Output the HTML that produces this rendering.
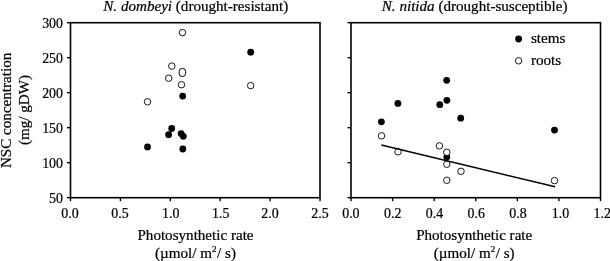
<!DOCTYPE html>
<html><head><meta charset="utf-8"><style>
text{stroke:#000;stroke-width:0.22px;}
html,body{margin:0;padding:0;background:#fff;width:610px;height:261px;overflow:hidden;}
svg{display:block;will-change:transform;}
</style></head><body>
<svg width="610" height="261" viewBox="0 0 610 261"><rect width="610" height="261" fill="#fff"/><rect x="70.5" y="22.7" width="249.5" height="175.0" fill="none" stroke="#000" stroke-width="1.6"/><line x1="67.0" y1="197.70" x2="70.5" y2="197.70" stroke="#000" stroke-width="1.35"/><line x1="67.0" y1="162.70" x2="70.5" y2="162.70" stroke="#000" stroke-width="1.35"/><line x1="67.0" y1="127.70" x2="70.5" y2="127.70" stroke="#000" stroke-width="1.35"/><line x1="67.0" y1="92.70" x2="70.5" y2="92.70" stroke="#000" stroke-width="1.35"/><line x1="67.0" y1="57.70" x2="70.5" y2="57.70" stroke="#000" stroke-width="1.35"/><line x1="67.0" y1="22.70" x2="70.5" y2="22.70" stroke="#000" stroke-width="1.35"/><rect x="351.0" y="22.7" width="249.5" height="175.0" fill="none" stroke="#000" stroke-width="1.6"/><line x1="347.5" y1="197.70" x2="351.0" y2="197.70" stroke="#000" stroke-width="1.35"/><line x1="347.5" y1="162.70" x2="351.0" y2="162.70" stroke="#000" stroke-width="1.35"/><line x1="347.5" y1="127.70" x2="351.0" y2="127.70" stroke="#000" stroke-width="1.35"/><line x1="347.5" y1="92.70" x2="351.0" y2="92.70" stroke="#000" stroke-width="1.35"/><line x1="347.5" y1="57.70" x2="351.0" y2="57.70" stroke="#000" stroke-width="1.35"/><line x1="347.5" y1="22.70" x2="351.0" y2="22.70" stroke="#000" stroke-width="1.35"/><text x="63.0" y="203.10" text-anchor="end" font-family='"Liberation Serif", serif' font-size="13.9">50</text><text x="63.0" y="168.10" text-anchor="end" font-family='"Liberation Serif", serif' font-size="13.9">100</text><text x="63.0" y="133.10" text-anchor="end" font-family='"Liberation Serif", serif' font-size="13.9">150</text><text x="63.0" y="98.10" text-anchor="end" font-family='"Liberation Serif", serif' font-size="13.9">200</text><text x="63.0" y="63.10" text-anchor="end" font-family='"Liberation Serif", serif' font-size="13.9">250</text><text x="63.0" y="28.10" text-anchor="end" font-family='"Liberation Serif", serif' font-size="13.9">300</text><line x1="70.5" y1="197.7" x2="70.5" y2="201.2" stroke="#000" stroke-width="1.35"/><text x="70.00" y="217.7" text-anchor="middle" font-family='"Liberation Serif", serif' font-size="13.9">0.0</text><line x1="120.4" y1="197.7" x2="120.4" y2="201.2" stroke="#000" stroke-width="1.35"/><text x="120.00" y="217.7" text-anchor="middle" font-family='"Liberation Serif", serif' font-size="13.9">0.5</text><line x1="170.3" y1="197.7" x2="170.3" y2="201.2" stroke="#000" stroke-width="1.35"/><text x="170.70" y="217.7" text-anchor="middle" font-family='"Liberation Serif", serif' font-size="13.9">1.0</text><line x1="220.2" y1="197.7" x2="220.2" y2="201.2" stroke="#000" stroke-width="1.35"/><text x="220.70" y="217.7" text-anchor="middle" font-family='"Liberation Serif", serif' font-size="13.9">1.5</text><line x1="270.1" y1="197.7" x2="270.1" y2="201.2" stroke="#000" stroke-width="1.35"/><text x="270.00" y="217.7" text-anchor="middle" font-family='"Liberation Serif", serif' font-size="13.9">2.0</text><line x1="320.0" y1="197.7" x2="320.0" y2="201.2" stroke="#000" stroke-width="1.35"/><text x="320.00" y="217.7" text-anchor="middle" font-family='"Liberation Serif", serif' font-size="13.9">2.5</text><line x1="351.00" y1="197.7" x2="351.00" y2="201.2" stroke="#000" stroke-width="1.35"/><text x="350.90" y="217.7" text-anchor="middle" font-family='"Liberation Serif", serif' font-size="13.9">0.0</text><line x1="392.58" y1="197.7" x2="392.58" y2="201.2" stroke="#000" stroke-width="1.35"/><text x="392.68" y="217.7" text-anchor="middle" font-family='"Liberation Serif", serif' font-size="13.9">0.2</text><line x1="434.17" y1="197.7" x2="434.17" y2="201.2" stroke="#000" stroke-width="1.35"/><text x="434.46" y="217.7" text-anchor="middle" font-family='"Liberation Serif", serif' font-size="13.9">0.4</text><line x1="475.75" y1="197.7" x2="475.75" y2="201.2" stroke="#000" stroke-width="1.35"/><text x="476.24" y="217.7" text-anchor="middle" font-family='"Liberation Serif", serif' font-size="13.9">0.6</text><line x1="517.33" y1="197.7" x2="517.33" y2="201.2" stroke="#000" stroke-width="1.35"/><text x="518.02" y="217.7" text-anchor="middle" font-family='"Liberation Serif", serif' font-size="13.9">0.8</text><line x1="558.92" y1="197.7" x2="558.92" y2="201.2" stroke="#000" stroke-width="1.35"/><text x="560.50" y="217.7" text-anchor="middle" font-family='"Liberation Serif", serif' font-size="13.9">1.0</text><line x1="600.50" y1="197.7" x2="600.50" y2="201.2" stroke="#000" stroke-width="1.35"/><text x="602.28" y="217.7" text-anchor="middle" font-family='"Liberation Serif", serif' font-size="13.9">1.2</text><circle cx="250.70000000000002" cy="52.2" r="3.4" fill="#000"/><circle cx="182.70000000000002" cy="96.10000000000001" r="3.4" fill="#000"/><circle cx="171.70000000000002" cy="128.5" r="3.4" fill="#000"/><circle cx="168.60000000000002" cy="134.7" r="3.4" fill="#000"/><circle cx="181.10000000000002" cy="133.6" r="3.4" fill="#000"/><circle cx="183.3" cy="136.29999999999998" r="3.4" fill="#000"/><circle cx="147.5" cy="146.89999999999998" r="3.4" fill="#000"/><circle cx="182.8" cy="149.0" r="3.4" fill="#000"/><circle cx="381.40000000000003" cy="121.80000000000001" r="3.4" fill="#000"/><circle cx="397.90000000000003" cy="103.4" r="3.4" fill="#000"/><circle cx="439.8" cy="104.7" r="3.4" fill="#000"/><circle cx="446.70000000000005" cy="80.30000000000001" r="3.4" fill="#000"/><circle cx="446.90000000000003" cy="100.30000000000001" r="3.4" fill="#000"/><circle cx="460.70000000000005" cy="118.2" r="3.4" fill="#000"/><circle cx="446.8" cy="157.1" r="3.4" fill="#000"/><circle cx="554.5" cy="130.1" r="3.4" fill="#000"/><circle cx="182.5" cy="32.6" r="3.25" fill="#fff" stroke="#000" stroke-width="0.9"/><circle cx="171.8" cy="66.10000000000001" r="3.25" fill="#fff" stroke="#000" stroke-width="0.9"/><circle cx="168.70000000000002" cy="78.2" r="3.25" fill="#fff" stroke="#000" stroke-width="0.9"/><circle cx="181.5" cy="84.7" r="3.25" fill="#fff" stroke="#000" stroke-width="0.9"/><circle cx="147.5" cy="101.8" r="3.25" fill="#fff" stroke="#000" stroke-width="0.9"/><circle cx="250.70000000000002" cy="85.60000000000001" r="3.25" fill="#fff" stroke="#000" stroke-width="0.9"/><circle cx="381.5" cy="135.8" r="3.25" fill="#fff" stroke="#000" stroke-width="0.9"/><circle cx="398.0" cy="151.8" r="3.25" fill="#fff" stroke="#000" stroke-width="0.9"/><circle cx="439.40000000000003" cy="145.9" r="3.25" fill="#fff" stroke="#000" stroke-width="0.9"/><circle cx="446.8" cy="152.3" r="3.25" fill="#fff" stroke="#000" stroke-width="0.9"/><circle cx="446.8" cy="164.3" r="3.25" fill="#fff" stroke="#000" stroke-width="0.9"/><circle cx="461.0" cy="171.3" r="3.25" fill="#fff" stroke="#000" stroke-width="0.9"/><circle cx="446.8" cy="180.3" r="3.25" fill="#fff" stroke="#000" stroke-width="0.9"/><circle cx="554.5" cy="180.6" r="3.25" fill="#fff" stroke="#000" stroke-width="0.9"/><path d="M179.15,71.60 A3.25,3.25 0 0 1 185.65,71.60 L185.65,73.40 A3.25,3.25 0 0 1 179.15,73.40 Z" fill="#fff" stroke="#000" stroke-width="1.0"/><line x1="381.4" y1="145.0" x2="555.1" y2="186.8" stroke="#000" stroke-width="1.5"/><circle cx="518.6" cy="39.0" r="3.4" fill="#000"/><circle cx="518.6" cy="60.8" r="3.25" fill="#fff" stroke="#000" stroke-width="0.9"/><text x="531" y="43.2" font-family='"Liberation Serif", serif' font-size="15.1">stems</text><text x="531" y="64.8" font-family='"Liberation Serif", serif' font-size="15.1">roots</text><text x="103.3" y="11.0" font-family='"Liberation Serif", serif' font-size="15.1"><tspan font-style="italic">N. dombeyi</tspan> (drought-resistant)</text><text x="381.8" y="11.0" font-family='"Liberation Serif", serif' font-size="15.1"><tspan font-style="italic">N. nitida</tspan> (drought-susceptible)</text><text x="195.5" y="239.7" text-anchor="middle" font-family='"Liberation Serif", serif' font-size="15.1">Photosynthetic rate</text><text x="195.5" y="258.0" text-anchor="middle" font-family='"Liberation Serif", serif' font-size="15.1">(µmol/ m<tspan font-size="9.1" dy="-6.2">2</tspan><tspan dy="6.2" dx="0.5">/ s)</tspan></text><text x="474.2" y="239.7" text-anchor="middle" font-family='"Liberation Serif", serif' font-size="15.1">Photosynthetic rate</text><text x="474.2" y="258.0" text-anchor="middle" font-family='"Liberation Serif", serif' font-size="15.1">(µmol/ m<tspan font-size="9.1" dy="-6.2">2</tspan><tspan dy="6.2" dx="0.5">/ s)</tspan></text><g transform="translate(11,110.4) rotate(-90)"><text x="0" y="0" text-anchor="middle" font-family='"Liberation Serif", serif' font-size="15.1">NSC concentration</text></g><g transform="translate(29,110.0) rotate(-90)"><text x="0" y="0" text-anchor="middle" font-family='"Liberation Serif", serif' font-size="15.1">(mg/ gDW)</text></g></svg>
</body></html>
